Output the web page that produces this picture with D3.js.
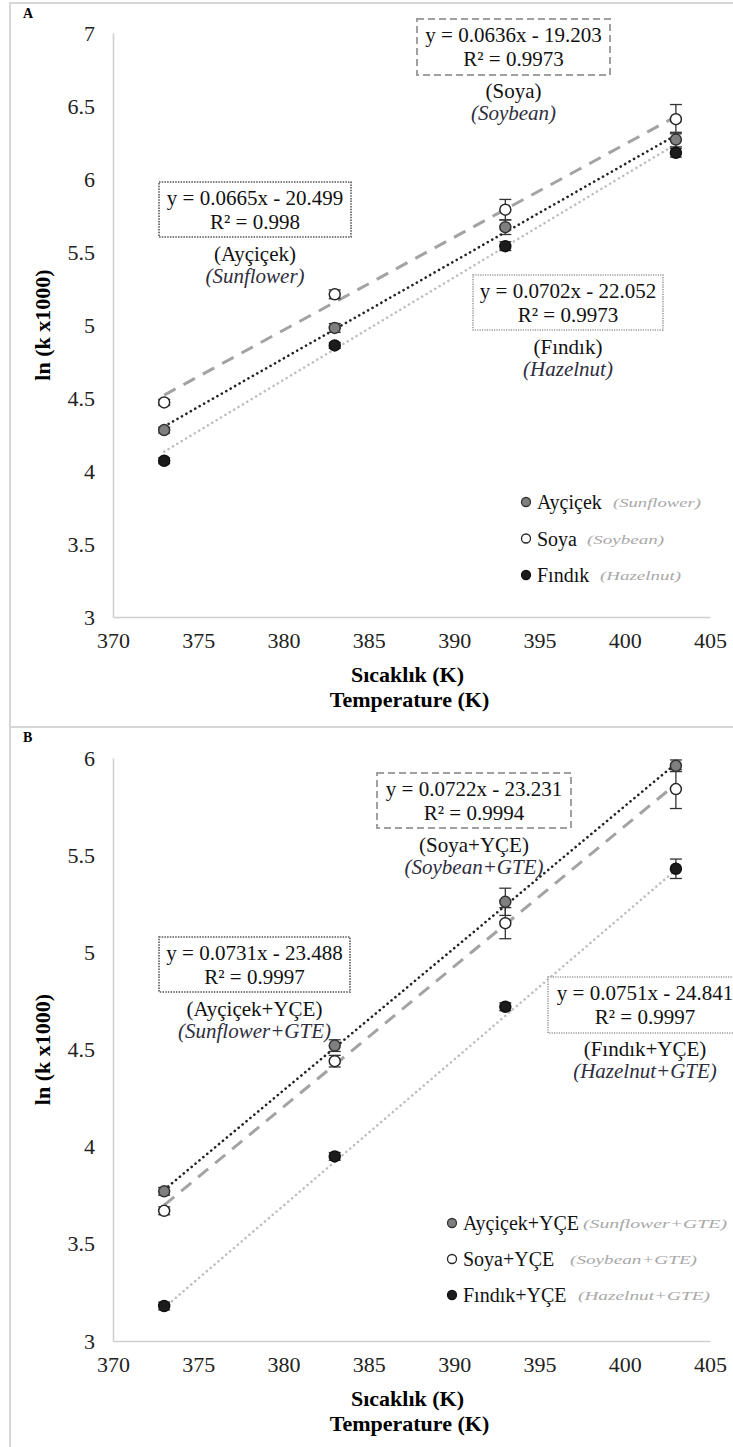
<!DOCTYPE html>
<meta charset="utf-8">
<script src="https://d3js.org/d3.v7.min.js"></script>
<body style="margin:0; background:#fff">
<div id="chart"></div>
<script>

// temperatures where k was measured
var temps = [373, 383, 393, 403];
var xTicks = [370, 375, 380, 385, 390, 395, 400, 405];
var yTicksA = [3, 3.5, 4, 4.5, 5, 5.5, 6, 6.5, 7];
var yTicksB = [3, 3.5, 4, 4.5, 5, 5.5, 6];

// panel A: oils alone, ln(k x1000)
var sunA = [4.28, 4.98, 5.67, 6.27];
var soyA = [4.47, 5.21, 5.79, 6.41];
var hazA = [4.07, 4.86, 5.54, 6.18];
var sunErrA = [0.02, 0.03, 0.05, 0.05];
var soyErrA = [0.02, 0.03, 0.07, 0.1];
var hazErrA = [0.02, 0.02, 0.03, 0.03];
var slopesA = [0.0665, 0.0636, 0.0702];
var interceptsA = [-20.499, -19.203, -22.052];
var r2A = ["0.998", "0.9973", "0.9973"];
var namesA = ["Ayçiçek", "Soya", "Fındık"];
var namesEnA = ["Sunflower", "Soybean", "Hazelnut"];

// panel B: oils + green tea extract
var sunB = [3.77, 4.52, 5.26, 5.96];
var soyB = [3.67, 4.44, 5.15, 5.84];
var hazB = [3.18, 3.95, 4.72, 5.43];
var sunErrB = [0.02, 0.03, 0.07, 0.03];
var soyErrB = [0.02, 0.03, 0.08, 0.1];
var hazErrB = [0.02, 0.02, 0.02, 0.05];
var slopesB = [0.0731, 0.0722, 0.0751];
var interceptsB = [-23.488, -23.231, -24.841];
var r2B = ["0.9997", "0.9994", "0.9997"];
var namesB = ["Ayçiçek+YÇE", "Soya+YÇE", "Fındık+YÇE"];
var namesEnB = ["Sunflower+GTE", "Soybean+GTE", "Hazelnut+GTE"];

// series styles: sunflower, soybean, hazelnut
var markerFill = ["#7f7f7f", "#ffffff", "#1c1c1c"];
var markerStroke = ["#333", "#262626", "#111"];
var lineStroke = ["#222", "#a3a3a3", "#bdbdbd"];
var lineDash = ["0.1 5", "13 9", "0.1 5"];
var lineWidth = [2.6, 3, 2.5];
var boxStroke = ["#555", "#a0a0a0", "#9a9a9a"];
var boxDash = ["1.5 1.2", "7 4", "1.2 1.2"];

var W = 733, H = 1447;
var FONT = "Liberation Serif";

var svg = d3.select("#chart").append("svg")
  .attr("width", W)
  .attr("height", H);

var panels = [
  {
    tag: "A", top: 3, h: 724, yMin: 3, yMax: 7, yTop: 33, yBottom: 617, yTicks: yTicksA,
    series: [sunA, soyA, hazA], errs: [sunErrA, soyErrA, hazErrA],
    slopes: slopesA, intercepts: interceptsA, r2: r2A, names: namesA, namesEn: namesEnA,
    boxes: [{x: 159, y: 182, w: 192, h: 55}, {x: 417, y: 19, w: 193, h: 56}, {x: 473, y: 275, w: 190, h: 55}],
    legend: {mx: 526, y0: 502, dy: 36.5, tx: 537, en: [{x: 613, w: 88}, {x: 587, w: 77}, {x: 600, w: 81}]}
  },
  {
    tag: "B", top: 727, h: 725, yMin: 3, yMax: 6, yTop: 758, yBottom: 1341, yTicks: yTicksB,
    series: [sunB, soyB, hazB], errs: [sunErrB, soyErrB, hazErrB],
    slopes: slopesB, intercepts: interceptsB, r2: r2B, names: namesB, namesEn: namesEnB,
    boxes: [{x: 159, y: 937, w: 191, h: 55}, {x: 377, y: 773, w: 194, h: 55}, {x: 548, y: 977, w: 194, h: 56}],
    legend: {mx: 452, y0: 1223, dy: 36, tx: 463, en: [{x: 583, w: 144}, {x: 570, w: 127}, {x: 578, w: 132}]}
  }
];

var x = d3.scaleLinear().domain([370, 405]).range([113, 710]);

panels.forEach(function(p) {
  var y = d3.scaleLinear().domain([p.yMin, p.yMax]).range([p.yBottom, p.yTop]);
  var g = svg.append("g");

  // panel frame
  g.append("rect")
    .attr("x", 10).attr("y", p.top)
    .attr("width", W).attr("height", p.h)
    .attr("fill", "none").attr("stroke", "#d6d6d6").attr("stroke-width", 2);

  g.append("text")
    .attr("x", 23).attr("y", p.top + 15)
    .attr("font-size", 14).attr("font-weight", "bold")
    .text(p.tag);

  // axes
  var yAxis = g.append("g")
    .attr("transform", "translate(" + x(370) + ",0)")
    .call(d3.axisLeft(y).tickValues(p.yTicks).tickSize(0).tickPadding(18).tickFormat(d3.format("")));
  var xAxis = g.append("g")
    .attr("transform", "translate(0," + y(p.yMin) + ")")
    .call(d3.axisBottom(x).tickValues(xTicks).tickSize(0).tickPadding(15));
  [xAxis, yAxis].forEach(function(a) {
    a.attr("font-family", FONT).attr("font-size", 22);
    a.select(".domain").attr("stroke", "#cfcfcf").attr("stroke-width", 1.6);
    a.selectAll("text").attr("fill", "#222");
  });

  var xc = (x(370) + x(405)) / 2;
  g.append("text")
    .attr("x", xc - 4).attr("y", y(p.yMin) + 65)
    .attr("text-anchor", "middle").attr("font-size", 22).attr("font-weight", "bold")
    .text("Sıcaklık (K)");
  g.append("text")
    .attr("x", xc - 2).attr("y", y(p.yMin) + 90)
    .attr("text-anchor", "middle").attr("font-size", 22).attr("font-weight", "bold")
    .text("Temperature (K)");
  g.append("text")
    .attr("transform", "translate(50," + ((p.yTop + p.yBottom) / 2) + ") rotate(-90)")
    .attr("text-anchor", "middle").attr("font-size", 22).attr("font-weight", "bold")
    .text("ln (k x1000)");

  // trendlines from the fitted equations
  p.slopes.forEach(function(s, i) {
    var ends = [temps[0], temps[temps.length - 1]];
    g.append("line")
      .attr("x1", x(ends[0])).attr("y1", y(s * ends[0] + p.intercepts[i]))
      .attr("x2", x(ends[1])).attr("y2", y(s * ends[1] + p.intercepts[i]))
      .attr("stroke", lineStroke[i])
      .attr("stroke-width", lineWidth[i])
      .attr("stroke-dasharray", lineDash[i])
      .attr("stroke-linecap", i === 1 ? "butt" : "round");
  });

  // error bars then markers
  p.series.forEach(function(vals, i) {
    var pts = temps.map(function(t, j) { return {t: t, v: vals[j], e: p.errs[i][j]}; });
    var eb = g.append("g").attr("stroke", "#333").attr("stroke-width", 1.3);
    eb.selectAll("line.v").data(pts).join("line")
      .attr("x1", function(d) { return x(d.t); }).attr("x2", function(d) { return x(d.t); })
      .attr("y1", function(d) { return y(d.v - d.e); }).attr("y2", function(d) { return y(d.v + d.e); });
    eb.selectAll("line.top").data(pts).join("line")
      .attr("x1", function(d) { return x(d.t) - 6; }).attr("x2", function(d) { return x(d.t) + 6; })
      .attr("y1", function(d) { return y(d.v + d.e); }).attr("y2", function(d) { return y(d.v + d.e); });
    eb.selectAll("line.bot").data(pts).join("line")
      .attr("x1", function(d) { return x(d.t) - 6; }).attr("x2", function(d) { return x(d.t) + 6; })
      .attr("y1", function(d) { return y(d.v - d.e); }).attr("y2", function(d) { return y(d.v - d.e); });
  });
  p.series.forEach(function(vals, i) {
    g.selectAll(null).data(vals).join("circle")
      .attr("cx", function(d, j) { return x(temps[j]); })
      .attr("cy", function(d) { return y(d); })
      .attr("r", 5.5)
      .attr("fill", markerFill[i])
      .attr("stroke", markerStroke[i])
      .attr("stroke-width", 1.5);
  });

  // equation boxes
  p.boxes.forEach(function(b, i) {
    var cx = b.x + b.w / 2;
    g.append("rect")
      .attr("x", b.x).attr("y", b.y).attr("width", b.w).attr("height", b.h)
      .attr("fill", "#fff").attr("stroke", boxStroke[i])
      .attr("stroke-width", i === 1 ? 2 : 1.6)
      .attr("stroke-dasharray", boxDash[i]);
    var eq = "y = " + p.slopes[i] + "x - " + Math.abs(p.intercepts[i]).toFixed(3);
    g.append("text").attr("x", cx).attr("y", b.y + 23)
      .attr("text-anchor", "middle").attr("font-size", 21).attr("fill", "#111").text(eq);
    g.append("text").attr("x", cx).attr("y", b.y + 47)
      .attr("text-anchor", "middle").attr("font-size", 21).attr("fill", "#111").text("R² = " + p.r2[i]);
    g.append("text").attr("x", cx).attr("y", b.y + 79)
      .attr("text-anchor", "middle").attr("font-size", 21).attr("fill", "#111")
      .text("(" + p.names[i] + ")");
    g.append("text").attr("x", cx).attr("y", b.y + 101)
      .attr("text-anchor", "middle").attr("font-size", 21).attr("font-style", "italic").attr("fill", "#2e2e40")
      .text("(" + p.namesEn[i] + ")");
  });

  // legend
  var L = p.legend;
  p.names.forEach(function(n, i) {
    var ly = L.y0 + i * L.dy;
    g.append("circle")
      .attr("cx", L.mx).attr("cy", ly).attr("r", 4.5)
      .attr("fill", markerFill[i]).attr("stroke", markerStroke[i]).attr("stroke-width", 1.3);
    g.append("text").attr("x", L.tx).attr("y", ly + 7)
      .attr("font-size", 20).attr("fill", "#111").text(n);
    g.append("text").attr("x", L.en[i].x).attr("y", ly + 5)
      .attr("font-size", 13).attr("font-style", "italic").attr("fill", "#a8a8a8")
      .attr("textLength", L.en[i].w).attr("lengthAdjust", "spacingAndGlyphs")
      .text("(" + p.namesEn[i] + ")");
  });
});

// serif type everywhere, set on each text node
svg.selectAll("text").style("font-family", FONT);

</script>
